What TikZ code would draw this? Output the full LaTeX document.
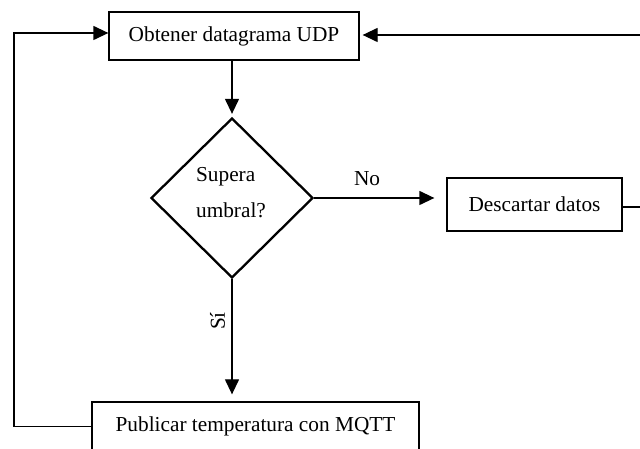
\documentclass[tikz,border=0pt]{standalone}
\usepackage{fontspec}
\setmainfont{Liberation Serif}
\usetikzlibrary{shapes.geometric,arrows.meta}
\begin{document}
\begin{tikzpicture}[x=1pt,y=1pt,
  every node/.style={font=\fontsize{21.3}{36}\selectfont, text=black},
  procbox/.style={draw, line width=1.3pt, inner sep=0pt},
  decision/.style={draw, diamond, line width=2.3pt, inner sep=0pt,
    minimum width=162pt, minimum height=160pt},
  flow/.style={line width=1.3pt, -{Triangle[length=15pt,width=14pt]}}]
  % page frame
  \fill[white] (0,0) rectangle (640,449);
  \useasboundingbox (0,0) rectangle (640,449);

  % process steps
  \node[procbox, minimum width=250pt, minimum height=48pt] (get) at (234,413) {Obtener datagrama UDP};
  \node[decision] (dia) at (232,251) {};
  \node[align=left] (diatext) at (231,256) {Supera\\umbral?};
  \node[procbox, minimum width=175pt, minimum height=53pt] (drop) at (534.5,244.5) {Descartar datos};
  \node[procbox, minimum width=327pt, minimum height=49pt] (pub) at (255.5,22.5) {Publicar temperatura con MQTT};

  % connectors
  \draw[flow, shorten >=3pt] (get.south -| dia.north) -- (dia.north);
  \draw[flow, shorten >=12pt] (dia.east) -- (dia.east -| drop.west)
    node[pos=0.4, anchor=base, yshift=12pt] (nolbl) {No};
  \draw[flow, shorten >=7pt] (dia.south) -- (dia.south |- pub.north);
  \node[rotate=90] (silbl) at (217.5,128) {Sí};
  \draw[flow] (pub.west) -- (14,22.5) |- ([yshift=3pt]get.west);
  \draw[flow, shorten >=3pt] ([yshift=-2.5pt]drop.east) -- ++(40,0) |- ([yshift=1pt]get.east);
\end{tikzpicture}
\end{document}
